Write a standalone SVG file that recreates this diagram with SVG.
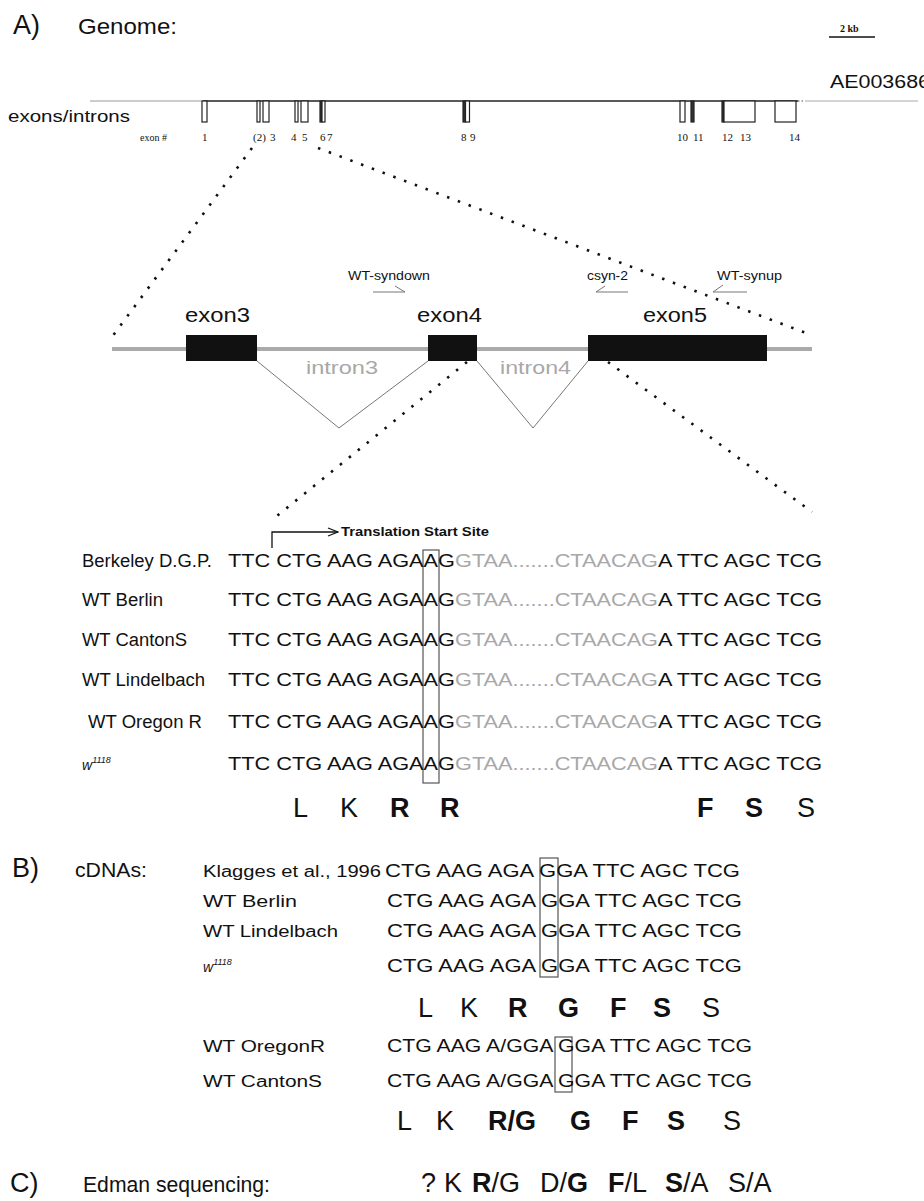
<svg xmlns="http://www.w3.org/2000/svg" width="924" height="1201" viewBox="0 0 924 1201">
<defs>
<style>
text{font-family:"Liberation Sans",Arial,sans-serif;fill:#111}
.serif{font-family:"Liberation Serif","Times New Roman",serif}
.gray{fill:#a8a8a8}
.seq{font-size:19px}
.cseq{font-size:18px}
.lab{font-size:18px}
.clab{font-size:16px}
.aa{font-size:27px}
.b{font-weight:bold}
.dot{stroke:#111;stroke-width:2.6;stroke-dasharray:2.5 9;fill:none}
.thin{stroke:#777;stroke-width:1;fill:none}
.box{stroke:#555;stroke-width:1.2;fill:none}
.ex{stroke:#222;stroke-width:1.2;fill:#fff}
.exf{stroke:#222;stroke-width:1.2;fill:#333}
</style>
<marker id="arr" markerWidth="12" markerHeight="10" refX="11" refY="5" orient="auto" markerUnits="userSpaceOnUse">
<path d="M1,1 L11,5 L1,9" fill="none" stroke="#111" stroke-width="1.3"/>
</marker>
</defs>
<rect width="924" height="1201" fill="#fff"/>

<g id="panel-A-titles">
<text x="13" y="34" font-size="27">A)</text>
<text x="78" y="34" font-size="22" textLength="99" lengthAdjust="spacingAndGlyphs">Genome:</text>
<text x="840" y="32" class="serif b" font-size="10">2 kb</text>
<line x1="829" y1="37" x2="875" y2="37" stroke="#111" stroke-width="1.5"/>
<text x="830" y="88" font-size="18" textLength="100" lengthAdjust="spacingAndGlyphs">AE003686</text>
<text x="8" y="122" font-size="17" textLength="122" lengthAdjust="spacingAndGlyphs">exons/introns</text>
</g>

<g id="genome-line">
<line x1="90" y1="101" x2="203" y2="101" stroke="#999" stroke-width="1.2"/>
<line x1="203" y1="101" x2="798" y2="101" stroke="#222" stroke-width="1.4"/>
<line x1="798" y1="101" x2="805" y2="101" stroke="#888" stroke-width="1.4" stroke-dasharray="1.5 2"/>
<line x1="805" y1="101" x2="918" y2="101" stroke="#aaa" stroke-width="1"/>
</g>

<g id="exons">
<rect class="ex" x="202" y="101" width="5" height="21"/>
<rect class="ex" x="257" y="101" width="3" height="21"/>
<rect class="ex" x="263" y="101" width="6" height="21"/>
<rect class="ex" x="295" y="101" width="3" height="21"/>
<rect class="ex" x="301" y="101" width="7" height="21"/>
<rect class="exf" x="320" y="101" width="2" height="21"/>
<rect class="ex" x="322" y="101" width="3" height="21"/>
<rect class="exf" x="463" y="101" width="2.5" height="21"/>
<rect class="ex" x="465.5" y="101" width="4" height="21"/>
<rect class="ex" x="680" y="101" width="5" height="21"/>
<rect class="exf" x="691" y="101" width="3" height="21"/>
<rect class="exf" x="722" y="101" width="2" height="21"/>
<rect class="ex" x="724" y="101" width="31" height="21"/>
<rect class="ex" x="775" y="101" width="21" height="21"/>
</g>

<g id="exon-numbers">
<text x="140" y="141" class="serif" font-size="10">exon #</text>
<text x="202" y="141" class="serif" font-size="11">1</text>
<text x="253" y="141" class="serif" font-size="11">(2)</text>
<text x="270" y="141" class="serif" font-size="11">3</text>
<text x="291" y="141" class="serif" font-size="11">4</text>
<text x="302" y="141" class="serif" font-size="11">5</text>
<text x="320" y="141" class="serif" font-size="11">6</text>
<text x="327" y="141" class="serif" font-size="11">7</text>
<text x="461" y="141" class="serif" font-size="11">8</text>
<text x="470" y="141" class="serif" font-size="11">9</text>
<text x="677" y="141" class="serif" font-size="11">10</text>
<text x="693" y="141" class="serif" font-size="11">11</text>
<text x="722" y="141" class="serif" font-size="11">12</text>
<text x="740" y="141" class="serif" font-size="11">13</text>
<text x="789" y="141" class="serif" font-size="11">14</text>
</g>

<g id="connectors">
<line class="dot" x1="252" y1="148" x2="112" y2="337"/>
<line class="dot" x1="318" y1="148" x2="806" y2="333"/>
<line class="dot" x1="467" y1="362" x2="272" y2="520"/>
<line class="dot" x1="608" y1="362" x2="812" y2="512"/>
<polyline class="thin" points="257,361 339,428 428,361"/>
<polyline class="thin" points="477,361 533,428 588,361"/>
<polyline class="thin" points="373,292 405,292 395,286"/>
<polyline class="thin" points="628,292 596,292 605,286"/>
<polyline class="thin" points="747,292 713,292 723,285"/>
<polyline points="272,548 272,532 338,532" fill="none" stroke="#111" stroke-width="1.3" marker-end="url(#arr)"/>
</g>

<g id="gene-model">
<line x1="112" y1="349" x2="812" y2="349" stroke="#aaa" stroke-width="4"/>
<rect x="186" y="335" width="71" height="26" fill="#111"/>
<rect x="428" y="335" width="49" height="26" fill="#111"/>
<rect x="588" y="335" width="179" height="26" fill="#111"/>
<text x="185" y="322" font-size="20" textLength="65" lengthAdjust="spacingAndGlyphs">exon3</text>
<text x="417" y="322" font-size="20" textLength="65" lengthAdjust="spacingAndGlyphs">exon4</text>
<text x="643" y="322" font-size="20" textLength="64" lengthAdjust="spacingAndGlyphs">exon5</text>
<text x="306" y="374" font-size="19" class="gray" textLength="72" lengthAdjust="spacingAndGlyphs">intron3</text>
<text x="500" y="374" font-size="19" class="gray" textLength="71" lengthAdjust="spacingAndGlyphs">intron4</text>
</g>

<g id="primers">
<text x="348" y="280" font-size="12" textLength="82" lengthAdjust="spacingAndGlyphs">WT-syndown</text>
<text x="587" y="280" font-size="12" textLength="41" lengthAdjust="spacingAndGlyphs">csyn-2</text>
<text x="717" y="280" font-size="12" textLength="65" lengthAdjust="spacingAndGlyphs">WT-synup</text>
</g>

<g id="translation-start">
<text x="341" y="536" font-size="12" class="b" textLength="148" lengthAdjust="spacingAndGlyphs">Translation Start Site</text>
</g>

<g id="genomic-rows">
<rect class="box" x="423" y="550" width="16" height="233"/>
<text x="82" y="567" class="lab" textLength="130" lengthAdjust="spacingAndGlyphs">Berkeley D.G.P.</text>
<text x="228" y="567" class="seq" textLength="227" lengthAdjust="spacingAndGlyphs">TTC CTG AAG AGAAG</text>
<text x="455" y="567" class="seq gray" textLength="203" lengthAdjust="spacingAndGlyphs">GTAA.......CTAACAG</text>
<text x="658" y="567" class="seq" textLength="164" lengthAdjust="spacingAndGlyphs">A TTC AGC TCG</text>

<text x="82" y="606" class="lab" textLength="81" lengthAdjust="spacingAndGlyphs">WT Berlin</text>
<text x="228" y="606" class="seq" textLength="227" lengthAdjust="spacingAndGlyphs">TTC CTG AAG AGAAG</text>
<text x="455" y="606" class="seq gray" textLength="203" lengthAdjust="spacingAndGlyphs">GTAA.......CTAACAG</text>
<text x="658" y="606" class="seq" textLength="164" lengthAdjust="spacingAndGlyphs">A TTC AGC TCG</text>

<text x="82" y="646" class="lab" textLength="105" lengthAdjust="spacingAndGlyphs">WT CantonS</text>
<text x="228" y="646" class="seq" textLength="227" lengthAdjust="spacingAndGlyphs">TTC CTG AAG AGAAG</text>
<text x="455" y="646" class="seq gray" textLength="203" lengthAdjust="spacingAndGlyphs">GTAA.......CTAACAG</text>
<text x="658" y="646" class="seq" textLength="164" lengthAdjust="spacingAndGlyphs">A TTC AGC TCG</text>

<text x="82" y="686" class="lab" textLength="123" lengthAdjust="spacingAndGlyphs">WT Lindelbach</text>
<text x="228" y="686" class="seq" textLength="227" lengthAdjust="spacingAndGlyphs">TTC CTG AAG AGAAG</text>
<text x="455" y="686" class="seq gray" textLength="203" lengthAdjust="spacingAndGlyphs">GTAA.......CTAACAG</text>
<text x="658" y="686" class="seq" textLength="164" lengthAdjust="spacingAndGlyphs">A TTC AGC TCG</text>

<text x="88" y="728" class="lab" textLength="114" lengthAdjust="spacingAndGlyphs">WT Oregon R</text>
<text x="228" y="728" class="seq" textLength="227" lengthAdjust="spacingAndGlyphs">TTC CTG AAG AGAAG</text>
<text x="455" y="728" class="seq gray" textLength="203" lengthAdjust="spacingAndGlyphs">GTAA.......CTAACAG</text>
<text x="658" y="728" class="seq" textLength="164" lengthAdjust="spacingAndGlyphs">A TTC AGC TCG</text>

<text x="82" y="770" font-size="14" font-style="italic">w<tspan font-size="9" dy="-7">1118</tspan></text>
<text x="228" y="770" class="seq" textLength="227" lengthAdjust="spacingAndGlyphs">TTC CTG AAG AGAAG</text>
<text x="455" y="770" class="seq gray" textLength="203" lengthAdjust="spacingAndGlyphs">GTAA.......CTAACAG</text>
<text x="658" y="770" class="seq" textLength="164" lengthAdjust="spacingAndGlyphs">A TTC AGC TCG</text>
</g>

<g id="genomic-translation">
<text x="293" y="817" class="aa">L</text>
<text x="340" y="817" class="aa">K</text>
<text x="390" y="817" class="aa b">R</text>
<text x="440" y="817" class="aa b">R</text>
<text x="697" y="817" class="aa b">F</text>
<text x="745" y="817" class="aa b">S</text>
<text x="797" y="817" class="aa">S</text>
</g>

<g id="panel-B">
<text x="12" y="877" font-size="27">B)</text>
<text x="75" y="877" font-size="21" textLength="72" lengthAdjust="spacingAndGlyphs">cDNAs:</text>
<rect class="box" x="540" y="858" width="18" height="119"/>
<text x="203" y="877" class="clab" textLength="178" lengthAdjust="spacingAndGlyphs">Klagges et al., 1996</text>
<text x="385" y="877" class="cseq" textLength="355" lengthAdjust="spacingAndGlyphs">CTG AAG AGA GGA TTC AGC TCG</text>
<text x="203" y="907" class="clab" textLength="94" lengthAdjust="spacingAndGlyphs">WT Berlin</text>
<text x="387" y="907" class="cseq" textLength="355" lengthAdjust="spacingAndGlyphs">CTG AAG AGA GGA TTC AGC TCG</text>
<text x="203" y="937" class="clab" textLength="135" lengthAdjust="spacingAndGlyphs">WT Lindelbach</text>
<text x="387" y="937" class="cseq" textLength="355" lengthAdjust="spacingAndGlyphs">CTG AAG AGA GGA TTC AGC TCG</text>
<text x="203" y="972" font-size="14" font-style="italic">w<tspan font-size="9" dy="-7">1118</tspan></text>
<text x="387" y="972" class="cseq" textLength="355" lengthAdjust="spacingAndGlyphs">CTG AAG AGA GGA TTC AGC TCG</text>
</g>

<g id="cdna-translation-1">
<text x="418" y="1017" class="aa">L</text>
<text x="460" y="1017" class="aa">K</text>
<text x="508" y="1017" class="aa b">R</text>
<text x="558" y="1017" class="aa b">G</text>
<text x="610" y="1017" class="aa b">F</text>
<text x="653" y="1017" class="aa b">S</text>
<text x="702" y="1017" class="aa">S</text>
</g>

<g id="cdna-rows-2">
<rect class="box" x="555" y="1037" width="17" height="55"/>
<text x="203" y="1052" class="clab" textLength="122" lengthAdjust="spacingAndGlyphs">WT OregonR</text>
<text x="387" y="1052" class="cseq" textLength="365" lengthAdjust="spacingAndGlyphs">CTG AAG A/GGA GGA TTC AGC TCG</text>
<text x="203" y="1087" class="clab" textLength="119" lengthAdjust="spacingAndGlyphs">WT CantonS</text>
<text x="387" y="1087" class="cseq" textLength="365" lengthAdjust="spacingAndGlyphs">CTG AAG A/GGA GGA TTC AGC TCG</text>
</g>

<g id="cdna-translation-2">
<text x="397" y="1130" class="aa">L</text>
<text x="436" y="1130" class="aa">K</text>
<text x="488" y="1130" class="aa b">R/G</text>
<text x="570" y="1130" class="aa b">G</text>
<text x="622" y="1130" class="aa b">F</text>
<text x="667" y="1130" class="aa b">S</text>
<text x="723" y="1130" class="aa">S</text>
</g>

<g id="panel-C">
<text x="10" y="1192" font-size="27">C)</text>
<text x="83" y="1192" font-size="22" textLength="187" lengthAdjust="spacingAndGlyphs">Edman sequencing:</text>
<text x="421" y="1192" class="aa">?</text>
<text x="444" y="1192" class="aa">K</text>
<text x="472" y="1192" class="aa"><tspan class="b">R</tspan>/G</text>
<text x="540" y="1192" class="aa">D/<tspan class="b">G</tspan></text>
<text x="608" y="1192" class="aa"><tspan class="b">F</tspan>/L</text>
<text x="665" y="1192" class="aa"><tspan class="b">S</tspan>/A</text>
<text x="728" y="1192" class="aa">S/A</text>
</g>
</svg>
